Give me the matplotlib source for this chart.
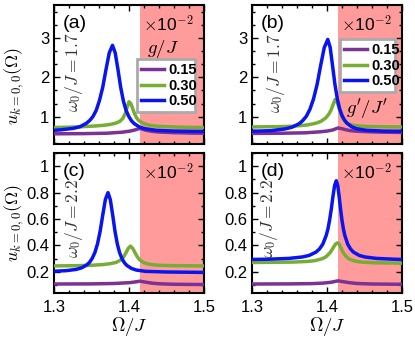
import numpy as np
import matplotlib
matplotlib.use("Agg")
import matplotlib.pyplot as plt
from matplotlib.ticker import MultipleLocator
from matplotlib.lines import Line2D

plt.rcParams['font.family'] = ['Liberation Sans', 'DejaVu Sans']
plt.rcParams['mathtext.fontset'] = 'cm'

# ---------------- data ----------------
labels = ["0.15", "0.30", "0.50"]
colors = ["#7b3294", "#78ad35", "#0a14f0"]
shade_start = 1.4142

# panel (a)
xa_p = [1.30, 1.34, 1.37, 1.39, 1.40, 1.405, 1.41, 1.414, 1.418, 1.422, 1.43, 1.44, 1.46, 1.48, 1.50]
ya_p = [0.56, 0.565, 0.575, 0.60, 0.625, 0.645, 0.67, 0.70, 0.68, 0.655, 0.625, 0.605, 0.59, 0.58, 0.575]
xa_g = [1.30, 1.32, 1.34, 1.355, 1.365, 1.375, 1.382, 1.388, 1.392, 1.395, 1.3975, 1.40, 1.4025, 1.405,
        1.4075, 1.41, 1.4125, 1.415, 1.42, 1.425, 1.43, 1.44, 1.46, 1.48, 1.50]
ya_g = [0.72, 0.73, 0.745, 0.76, 0.775, 0.80, 0.83, 0.88, 0.96, 1.08, 1.24, 1.38, 1.33, 1.20,
        1.07, 0.97, 0.91, 0.87, 0.82, 0.79, 0.77, 0.75, 0.735, 0.725, 0.72]
xa_b = [1.30, 1.3084, 1.3258, 1.3345, 1.3432, 1.3476, 1.3519, 1.3563, 1.3606, 1.365, 1.3693, 1.3737, 1.378,
        1.3816, 1.3853, 1.3889, 1.3925, 1.3961, 1.3998, 1.4034, 1.407, 1.4143, 1.4215, 1.436, 1.46, 1.50]
ya_b = [0.65, 0.66, 0.70, 0.74, 0.83, 0.90, 1.00, 1.16, 1.41, 1.75, 2.20, 2.63, 2.82,
        2.63, 2.20, 1.75, 1.40, 1.16, 1.00, 0.89, 0.82, 0.73, 0.69, 0.65, 0.63, 0.62]

# panel (b)
xb_p = [1.30, 1.34, 1.37, 1.39, 1.40, 1.408, 1.4147, 1.42, 1.425, 1.43, 1.44, 1.46, 1.48, 1.50]
yb_p = [0.57, 0.575, 0.585, 0.61, 0.63, 0.66, 0.71, 0.69, 0.665, 0.645, 0.625, 0.61, 0.60, 0.595]
xb_g = [1.30, 1.32, 1.34, 1.355, 1.365, 1.375, 1.385, 1.392, 1.398, 1.402, 1.405, 1.408, 1.411, 1.4135,
        1.416, 1.4185, 1.421, 1.424, 1.428, 1.433, 1.44, 1.45, 1.47, 1.50]
yb_g = [0.735, 0.74, 0.745, 0.755, 0.77, 0.79, 0.83, 0.88, 0.96, 1.05, 1.15, 1.30, 1.44, 1.38,
        1.22, 1.07, 0.96, 0.88, 0.82, 0.785, 0.765, 0.75, 0.74, 0.735]
xb_b = [1.30, 1.325, 1.344, 1.3535, 1.363, 1.3678, 1.3725, 1.3773, 1.382, 1.3868, 1.3915, 1.3963, 1.401,
        1.4042, 1.4074, 1.4106, 1.4138, 1.417, 1.4202, 1.4234, 1.4266, 1.433, 1.4394, 1.4522, 1.475, 1.50]
yb_b = [0.625, 0.64, 0.685, 0.73, 0.82, 0.90, 1.01, 1.19, 1.45, 1.82, 2.30, 2.76, 2.97,
        2.77, 2.30, 1.82, 1.45, 1.19, 1.02, 0.91, 0.83, 0.74, 0.69, 0.65, 0.63, 0.625]

# panel (c)
xc_p = [1.30, 1.35, 1.38, 1.40, 1.41, 1.4147, 1.42, 1.43, 1.44, 1.46, 1.50]
yc_p = [0.108, 0.109, 0.112, 0.118, 0.125, 0.130, 0.124, 0.115, 0.11, 0.106, 0.104]
xc_g = [1.30, 1.33, 1.35, 1.365, 1.375, 1.383, 1.389, 1.393, 1.396, 1.399, 1.402, 1.405, 1.408, 1.411,
        1.414, 1.418, 1.423, 1.43, 1.44, 1.46, 1.50]
yc_g = [0.245, 0.247, 0.25, 0.255, 0.262, 0.272, 0.29, 0.315, 0.345, 0.378, 0.395, 0.378, 0.345, 0.315,
        0.292, 0.275, 0.263, 0.255, 0.25, 0.247, 0.245]
xc_b = [1.30, 1.316, 1.33, 1.337, 1.344, 1.3475, 1.351, 1.3545, 1.358, 1.3615, 1.365, 1.3685, 1.372,
        1.3751, 1.3783, 1.3814, 1.3845, 1.3876, 1.3908, 1.3939, 1.397, 1.4033, 1.4095, 1.422, 1.45, 1.50]
yc_b = [0.205, 0.209, 0.219, 0.231, 0.254, 0.273, 0.303, 0.346, 0.412, 0.507, 0.63, 0.748, 0.80,
        0.747, 0.628, 0.505, 0.409, 0.343, 0.298, 0.269, 0.249, 0.226, 0.214, 0.204, 0.199, 0.196]

# panel (d)
xd_p = [1.30, 1.35, 1.38, 1.395, 1.405, 1.4147, 1.42, 1.43, 1.44, 1.46, 1.50]
yd_p = [0.108, 0.109, 0.111, 0.115, 0.121, 0.132, 0.127, 0.118, 0.112, 0.108, 0.106]
xd_g = [1.30, 1.354, 1.374, 1.384, 1.394, 1.399, 1.404, 1.4065, 1.409, 1.4115, 1.414,
        1.416, 1.418, 1.42, 1.422, 1.426, 1.43, 1.438, 1.446, 1.462, 1.50]
yd_g = [0.271, 0.274, 0.279, 0.285, 0.30, 0.316, 0.345, 0.366, 0.39, 0.411, 0.42,
        0.411, 0.389, 0.364, 0.3425, 0.313, 0.296, 0.2805, 0.274, 0.269, 0.266]
xd_b = [1.30, 1.3224, 1.3494, 1.3674, 1.3764, 1.3854, 1.3899, 1.3944, 1.3989, 1.4012, 1.4034, 1.4057,
        1.4079, 1.4102, 1.4124, 1.4143, 1.4162, 1.4181, 1.42, 1.4219, 1.4238, 1.4276, 1.4314, 1.4352,
        1.4428, 1.4504, 1.4656, 1.4884, 1.50]
yd_b = [0.294, 0.296, 0.302, 0.313, 0.325, 0.35, 0.373, 0.41, 0.475, 0.524, 0.59, 0.674,
        0.77, 0.855, 0.89, 0.855, 0.77, 0.674, 0.59, 0.524, 0.475, 0.41, 0.373, 0.35,
        0.325, 0.313, 0.302, 0.296, 0.294]

panels = [
    dict(tag="(a)", w0="1.7", curves=[(xa_p, ya_p), (xa_g, ya_g), (xa_b, ya_b)]),
    dict(tag="(b)", w0="1.7", curves=[(xb_p, yb_p), (xb_g, yb_g), (xb_b, yb_b)]),
    dict(tag="(c)", w0="2.2", curves=[(xc_p, yc_p), (xc_g, yc_g), (xc_b, yc_b)]),
    dict(tag="(d)", w0="2.2", curves=[(xd_p, yd_p), (xd_g, yd_g), (xd_b, yd_b)]),
]

# ---------------- layout ----------------
W, H = 415, 341
fig = plt.figure(figsize=(W / 100, H / 100), dpi=100)

def px_axes(x0, y0, x1, y1):
    return fig.add_axes([x0 / W, 1 - y1 / H, (x1 - x0) / W, (y1 - y0) / H])

boxes = [(54, 5, 204, 144), (252, 5, 402, 144), (54, 153, 204, 293), (252, 153, 402, 293)]
ylims = [(0.3, 3.85), (0.3, 3.85), (0.04, 1.1), (0.04, 1.1)]
w0pos = [(0.135, 0.52), (0.16, 0.51), (0.135, 0.53), (0.11, 0.53)]

axes = []
for i, (p, b) in enumerate(zip(panels, boxes)):
    ax = px_axes(*b)
    axes.append(ax)
    ax.set_xlim(1.3, 1.5)
    ax.set_ylim(*ylims[i])
    ax.axvspan(shade_start, 1.5, color="#ff9b9b", lw=0, zorder=0)
    for (xs, ys), c in zip(p["curves"], colors):
        ax.plot(xs, ys, color=c, lw=2.5, solid_capstyle="butt", zorder=3)
    ax.xaxis.set_major_locator(MultipleLocator(0.1))
    ax.xaxis.set_minor_locator(MultipleLocator(0.02))
    if i < 2:
        ax.yaxis.set_major_locator(MultipleLocator(1))
        ax.yaxis.set_minor_locator(MultipleLocator(1 / 3))
        ax.set_xticklabels([])
    else:
        ax.yaxis.set_major_locator(MultipleLocator(0.2))
        ax.yaxis.set_minor_locator(MultipleLocator(0.1))
        ax.set_yticks([0.2, 0.4, 0.6, 0.8, 1.0])
        ax.set_yticklabels(["0.2", "0.4", "0.6", "0.8", "1"])
        ax.set_xticks([1.3, 1.4, 1.5])
        ax.set_xticklabels(["1.3", "1.4", "1.5"])
        ax.set_xlabel(r"$\Omega/J$", fontsize=13.5, labelpad=0)
    ax.tick_params(which="both", direction="in", top=True, right=True, width=1.0,
                   labelsize=12, colors="black")
    ax.tick_params(axis="x", which="major", pad=5)
    ax.tick_params(which="major", length=4)
    ax.tick_params(which="minor", length=2)
    for s in ax.spines.values():
        s.set_linewidth(1.5)
    ax.text(0.055, 0.93, p["tag"], transform=ax.transAxes, fontsize=14,
            ha="left", va="top", zorder=5)
    ax.text(0.93, 0.935, r"$\times$10$^{-2}$", transform=ax.transAxes, fontsize=12.5,
            ha="right", va="top", zorder=5)
    ax.text(w0pos[i][0], w0pos[i][1], r"$\omega_0/J=" + p["w0"] + "$", transform=ax.transAxes,
            rotation=90, fontsize=12.5, color="#333333", ha="center", va="center", zorder=5)

# y labels
for ax, yc in ((axes[0], 0.42), (axes[2], 0.5)):
    ax.set_ylabel(r"$u_{k=0,0}(\Omega)$", fontsize=13, labelpad=1)
    ax.yaxis.set_label_coords(-0.19, yc)

# legends
handles = [Line2D([], [], color=c, lw=2.5) for c in colors]
leg_a = axes[0].legend(handles, labels, loc="lower left", bbox_to_anchor=(0.553, 0.23, 0.39, 0.36),
                       mode="expand", prop={"weight": "bold", "size": 10.5}, handlelength=1.6,
                       handletextpad=0.3, borderpad=0.25, labelspacing=0.12, borderaxespad=0,
                       fancybox=False, framealpha=1, edgecolor="#aaaaaa")
leg_a.get_frame().set_linewidth(2)
leg_a.set_zorder(6)
axes[0].text(0.73, 0.68, r"$g/J$", transform=axes[0].transAxes, fontsize=13.5,
             ha="center", va="center", zorder=5)

leg_b = axes[1].legend(handles, labels, loc="lower left", bbox_to_anchor=(0.587, 0.374, 0.366, 0.36),
                       mode="expand", prop={"weight": "bold", "size": 10.5}, handlelength=1.6,
                       handletextpad=0.3, borderpad=0.25, labelspacing=0.12, borderaxespad=0,
                       fancybox=False, framealpha=1, edgecolor="#aaaaaa")
leg_b.get_frame().set_linewidth(2)
leg_b.set_zorder(6)
axes[1].text(0.77, 0.25, r"$g'/J'$", transform=axes[1].transAxes, fontsize=13.5,
             ha="center", va="center", zorder=5)

fig.savefig("out.png", dpi=100)
